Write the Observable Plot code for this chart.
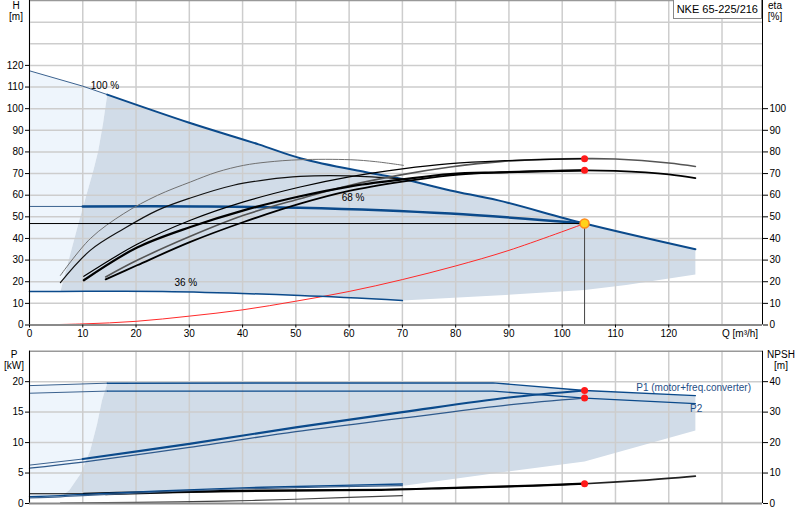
<!DOCTYPE html>
<html><head><meta charset="utf-8">
<script src="https://cdn.jsdelivr.net/npm/d3@7"></script>
<script src="https://cdn.jsdelivr.net/npm/@observablehq/plot@0.6"></script>
<style>
body{margin:0;background:#fff;font-family:"Liberation Sans",Arial,sans-serif;}
#wrap{position:relative;width:800px;height:520px;overflow:hidden;}
#wrap svg{display:block;}
.lbl{position:absolute;font-size:10px;color:#000;text-align:center;line-height:12px;white-space:nowrap;}
#title{position:absolute;right:38px;top:0px;height:18px;padding:0 3px;border:1px solid #888;border-top:none;background:#fff;font-size:11px;line-height:18px;white-space:nowrap;}
</style></head>
<body><div id="wrap"></div>
<script>
// ---------- axis ticks ----------
const qTicks = [0,10,20,30,40,50,60,70,80,90,100,110,120];
const qGrid = [0,10,20,30,40,50,60,70,80,90,100,110,120,130];
const hTicks = [0,10,20,30,40,50,60,70,80,90,100,110,120];
const hGrid = [10,20,30,40,50,60,70,80,90,100,110,120,130,140];
const etaTicks = [0,10,20,30,40,50,60,70,80,90,100];
const pTicks = [0,5,10,15,20];
const npshTicks = [0,10,20,30,40];
const qMax = 137.6, hMax = 150, pMax = 25, npshMax = 50;

// ---------- H curves (Q m3/h, H m) ----------
const h100 = [[0,117.5],[10,110.4],[14.6,106.5],[30,93.5],[43,83.5],[51,77],[63,70.7],[70,67.5],[79,62.2],[88,57.6],[104.2,46.9],[125,35]];
const h68 = [[0,54.8],[10,54.8],[32,54.8],[50.8,54.2],[79,51.5],[104.2,46.9]];
const h36 = [[0,15.5],[5.8,15.5],[25,15.5],[50.8,13.6],[70,11.3]];
const sysCurve = [[0,0],[10,0.5],[20,1.7],[30,4.1],[40,7],[50,11],[60,15.5],[70,21],[80,27.3],[90,34.5],[104.2,46.9]];
const duty = {q:104.2, h:46.9};

// operating range boundaries (H)
const hEdge = [[5.8,15.5],[9.3,48],[12.05,72],[12.9,80.4],[13.8,93],[14.6,106.5]];
const hRangeBottom = [[125,23.4],[112,18.5],[104.2,16.2],[88.4,13.7],[70,11.3],[50.8,13.6],[25,15.5],[5.8,15.5]];

// ---------- efficiency curves (eta %) ----------
const etaA = [[5.8,22.9],[11.4,39.9],[17.7,51.5],[24,59.9],[30.2,66.1],[35.2,70.7],[40.2,73.8],[44.6,75.3],[50.8,76.4],[60.2,76.4],[65,75.5],[70.2,73.8]];
const etaB = [[5.8,19.6],[11.4,34.5],[17.7,44.5],[24,53],[30.2,58.7],[38.3,64.6],[44.6,67.2],[50.8,68.7],[60.2,68.9],[70,67.5]];
const etaC = [[10.2,22.5],[20.2,37.3],[30.2,48.4],[40.2,56.9],[50.8,63.8],[60,68.5],[70,72.2],[79,74.6],[88.4,75.9],[104.2,76.9]];
const etaD = [[10.2,20.7],[20.2,35.8],[30.2,45.3],[40.2,53],[50.8,59.5],[60,64],[70,67.3],[79,69.8],[88.4,70.6],[104.2,71.5]];
const etaE = [[14.3,22.2],[20.2,29.9],[30.2,41],[40.2,50.7],[50.8,58.4],[60,64.5],[70,69.5],[79,73],[88.4,75.5],[104.2,76.9],[110,76.7],[120,74.9],[125,73.3]];
const etaF = [[14.3,21.1],[20.2,27.6],[30.2,38.4],[40.2,47.6],[50.8,56.1],[60,62],[70,66.3],[79,69.2],[88.4,70.5],[104.2,71.5],[110,71.2],[120,69.6],[125,67.9]];
const etaDuty = [76.9, 71.5];

const speedLabels = [{q:11.5,h:110.7,t:"100 %"},{q:58.6,h:58.7,t:"68 %"},{q:27.2,h:19.4,t:"36 %"}];

// ---------- power curves (P kW) ----------
const p1_100 = [[0,19.35],[14.6,19.75],[87,19.8],[104.2,18.55],[125,17.7]];
const p2_100 = [[0,18.1],[14.6,18.45],[87,18.45],[104.2,17.3],[125,16.4]];
const p1_duty = [[0,6.3],[10,7.3],[30,9.8],[50,12.5],[70,15.0],[90,17.4],[104.2,18.55]];
const p2_duty = [[0,5.8],[10,6.8],[30,9.2],[50,11.8],[70,14.0],[90,16.2],[104.2,17.3]];
const p1_36 = [[0,1.1],[5.8,1.3],[10,1.5],[36,2.45],[50,2.8],[70,3.2]];
const p2_36 = [[0,0.93],[5.8,1.1],[10,1.3],[36,2.3],[50,2.6],[70,2.95]];
const pDuty = [18.55, 17.3];
const pEdge = [[6.0,1.15],[7.5,2.2],[9.6,4.9],[11.4,8.7],[12.7,13.1],[13.6,16.9],[14.6,19.75]];
const pRangeBottom = [[125,12],[104.2,6.9],[88.4,5.1],[70.6,2.95]];
const powerLabels = [{q:113.9,p:19.0,t:"P1 (motor+freq.converter)"},{q:124,p:15.6,t:"P2"}];

// ---------- NPSH curves (m) ----------
const npshDuty = [[0,3.2],[10.2,3.2],[20,3.6],[36,4.1],[50,4.3],[66,4.5],[80,5.15],[90,5.6],[104.2,6.5]];
const npsh100 = [[14.3,3.0],[36,3.9],[66,4.5],[80,5.15],[90,5.6],[104.2,6.5],[115,7.6],[125,9.0]];
const npsh36 = [[5.8,0.1],[20,0.4],[35.9,0.75],[50,1.4],[70,2.6]];
const npshAtDuty = 6.5;

// ---------- colors ----------
const BLUE = "#0b4a8b", LIGHT = "#eef5fc", RANGE = "#d1dce8", GRID = "#cdcdcd";
const FONT = '"Liberation Sans", Arial, sans-serif';
const X = d => d[0], Y = d => d[1];
const mPerKW = npshMax / pMax;

// polygons built from the boundary arrays
const hLight = [[0,h36[0][1]], ...h100.filter(d => d[0] <= 14.6), ...hEdge.slice().reverse()];
const hRange = [...hEdge, ...h100.filter(d => d[0] > 14.6), ...hRangeBottom];
const pLight = [[0,p2_36[0][1]], ...p1_100.filter(d => d[0] <= 14.6), ...pEdge.slice().reverse(), p2_36[1]];
const pRange = [...pEdge, ...p1_100.filter(d => d[0] > 14.6), ...pRangeBottom, ...p2_36.filter(d => d[0] >= 6).reverse()];

const common = {width:800, marginLeft:29, marginRight:38, x:{domain:[0,qMax], axis:null}, style:{fontFamily:FONT, fontSize:"10px", background:"transparent", color:"#000"}};

const topChart = Plot.plot({
  ...common, height:345, marginTop:0, marginBottom:20.5,
  y:{domain:[0,hMax], axis:null},
  marks:[
    Plot.line(hLight, {x:X, y:Y, fill:LIGHT, stroke:"none"}),
    Plot.line(hRange, {x:X, y:Y, fill:RANGE, stroke:"none"}),
    Plot.ruleX(qGrid, {stroke:GRID, strokeWidth:1.5}),
    Plot.ruleY(hGrid, {stroke:GRID, strokeWidth:1.5}),
    Plot.line(sysCurve, {x:X, y:Y, stroke:"#ff2a2a", strokeWidth:1, curve:"catmull-rom"}),
    // speed curves
    Plot.line(h100.filter(d => d[0] <= 14.6), {x:X, y:Y, stroke:"#3b628f", strokeWidth:1}),
    Plot.line(h100.filter(d => d[0] >= 14.6), {x:X, y:Y, stroke:BLUE, strokeWidth:2, curve:"catmull-rom"}),
    Plot.line(h68.filter(d => d[0] <= 10), {x:X, y:Y, stroke:"#3b628f", strokeWidth:1}),
    Plot.line(h68.filter(d => d[0] >= 10), {x:X, y:Y, stroke:BLUE, strokeWidth:2.5, curve:"catmull-rom"}),
    Plot.line(h36, {x:X, y:Y, stroke:BLUE, strokeWidth:1.5, curve:"catmull-rom"}),
    // efficiency curves
    Plot.line(etaA, {x:X, y:Y, stroke:"#707070", strokeWidth:1, curve:"catmull-rom"}),
    Plot.line(etaB, {x:X, y:Y, stroke:"#111", strokeWidth:1.2, curve:"catmull-rom"}),
    Plot.line(etaE, {x:X, y:Y, stroke:"#555", strokeWidth:1.6, curve:"catmull-rom"}),
    Plot.line(etaF, {x:X, y:Y, stroke:"#000", strokeWidth:1.8, curve:"catmull-rom"}),
    Plot.line(etaC, {x:X, y:Y, stroke:"#000", strokeWidth:1.2, curve:"catmull-rom"}),
    Plot.line(etaD, {x:X, y:Y, stroke:"#000", strokeWidth:2.2, curve:"catmull-rom"}),
    // duty point lines
    Plot.ruleY([duty.h], {x1:0, x2:duty.q, stroke:"#000", strokeWidth:1}),
    Plot.ruleX([duty.q], {y1:0, y2:duty.h, stroke:"#444", strokeWidth:1}),
    Plot.dot(etaDuty, {x:duty.q, y:d => d, r:3.5, fill:"#ff1a1a", stroke:"none"}),
    Plot.dot([duty], {x:"q", y:"h", r:4.5, fill:"#ffd21a", stroke:"#ff8c1a", strokeWidth:1.5}),
    Plot.text(speedLabels, {x:"q", y:"h", text:"t", textAnchor:"start", fill:"#000", fontSize:10}),
    // frame
    Plot.ruleY([hMax], {stroke:"#999", strokeWidth:1.5}),
    Plot.ruleX([0], {stroke:"#000", strokeWidth:1}),
    Plot.ruleX([qMax], {stroke:"#000", strokeWidth:1}),
    Plot.ruleY([0], {stroke:"#8a8a8a", strokeWidth:2}),
    Plot.axisX(qTicks, {anchor:"bottom", tickSize:3, tickPadding:2, fontSize:10, fill:"#000", label:null}),
    Plot.text(["Q [m³/h]"], {x:130, y:0, textAnchor:"start", lineAnchor:"top", dy:5, fontSize:10, fill:"#000"}),
    Plot.axisY(hTicks, {anchor:"left", tickSize:4, tickPadding:2, fontSize:10, fill:"#000", label:null}),
    Plot.axisY(etaTicks, {anchor:"right", tickSize:5, tickPadding:2, fontSize:10, fill:"#000", label:null})
  ]
});

const bottomChart = Plot.plot({
  ...common, height:175, marginTop:5.7, marginBottom:17,
  y:{domain:[0,pMax], axis:null},
  marks:[
    Plot.line(pLight, {x:X, y:Y, fill:LIGHT, stroke:"none"}),
    Plot.line(pRange, {x:X, y:Y, fill:RANGE, stroke:"none"}),
    Plot.ruleX(qGrid, {stroke:GRID, strokeWidth:1.5}),
    Plot.ruleY(pTicks.slice(1), {stroke:GRID, strokeWidth:1.5}),
    // NPSH
    Plot.line(npsh36, {x:X, y:d => d[1] / mPerKW, stroke:"#444", strokeWidth:1.2, curve:"catmull-rom"}),
    Plot.line(npshDuty.filter(d => d[0] <= 10.2), {x:X, y:d => d[1] / mPerKW, stroke:"#000", strokeWidth:1.2}),
    Plot.line(npsh100, {x:X, y:d => d[1] / mPerKW, stroke:"#222", strokeWidth:1.6, curve:"catmull-rom"}),
    Plot.line(npshDuty.filter(d => d[0] >= 10.2), {x:X, y:d => d[1] / mPerKW, stroke:"#000", strokeWidth:2.2, curve:"catmull-rom"}),
    // power
    Plot.line(p1_36, {x:X, y:Y, stroke:BLUE, strokeWidth:1.4, curve:"catmull-rom"}),
    Plot.line(p2_36, {x:X, y:Y, stroke:"#3b628f", strokeWidth:1.2, curve:"catmull-rom"}),
    Plot.line(p1_100.filter(d => d[0] <= 14.6), {x:X, y:Y, stroke:"#3b628f", strokeWidth:1}),
    Plot.line(p1_100.filter(d => d[0] >= 14.6), {x:X, y:Y, stroke:BLUE, strokeWidth:1.4}),
    Plot.line(p2_100.filter(d => d[0] <= 14.6), {x:X, y:Y, stroke:"#3b628f", strokeWidth:1}),
    Plot.line(p2_100.filter(d => d[0] >= 14.6), {x:X, y:Y, stroke:BLUE, strokeWidth:1.3}),
    Plot.line(p2_duty, {x:X, y:Y, stroke:"#2f5a8c", strokeWidth:1.3, curve:"catmull-rom"}),
    Plot.line(p1_duty.filter(d => d[0] <= 10), {x:X, y:Y, stroke:"#3b628f", strokeWidth:1}),
    Plot.line(p1_duty.filter(d => d[0] >= 10), {x:X, y:Y, stroke:BLUE, strokeWidth:2.2, curve:"catmull-rom"}),
    Plot.dot(pDuty, {x:duty.q, y:d => d, r:3.5, fill:"#ff1a1a", stroke:"none"}),
    Plot.dot([npshAtDuty], {x:duty.q, y:d => d / mPerKW, r:3.5, fill:"#ff1a1a", stroke:"none"}),
    Plot.text(powerLabels, {x:"q", y:"p", text:"t", textAnchor:"start", fill:"#1f4f86", fontSize:10}),
    // frame
    Plot.ruleY([pMax], {stroke:"#999", strokeWidth:1.5}),
    Plot.ruleX([0], {stroke:"#000", strokeWidth:1}),
    Plot.ruleX([qMax], {stroke:"#000", strokeWidth:1}),
    Plot.ruleY([0], {stroke:"#8a8a8a", strokeWidth:2}),
    Plot.axisY(pTicks, {anchor:"left", tickSize:4, tickPadding:2, fontSize:10, fill:"#000", label:null}),
    Plot.axisY(npshTicks.map(v => v / mPerKW), {anchor:"right", tickSize:5, tickPadding:2, fontSize:10, fill:"#000", label:null, tickFormat: d => String(d * mPerKW)})
  ]
});

const wrap = document.getElementById("wrap");
wrap.appendChild(topChart);
wrap.appendChild(bottomChart);

const labels = [
  {t:"H", x:16, y:0}, {t:"[m]", x:16, y:11},
  {t:"eta", x:775, y:0}, {t:"[%]", x:775, y:11},
  {t:"P", x:14, y:349}, {t:"[kW]", x:14, y:360},
  {t:"NPSH", x:781, y:349}, {t:"[m]", x:781, y:360}
];
for (const l of labels) {
  const d = document.createElement("div");
  d.className = "lbl";
  d.textContent = l.t;
  d.style.left = (l.x - 20) + "px";
  d.style.width = "40px";
  d.style.top = l.y + "px";
  wrap.appendChild(d);
}
const t = document.createElement("div");
t.id = "title";
t.textContent = "NKE 65-225/216";
wrap.appendChild(t);
</script></body></html>
